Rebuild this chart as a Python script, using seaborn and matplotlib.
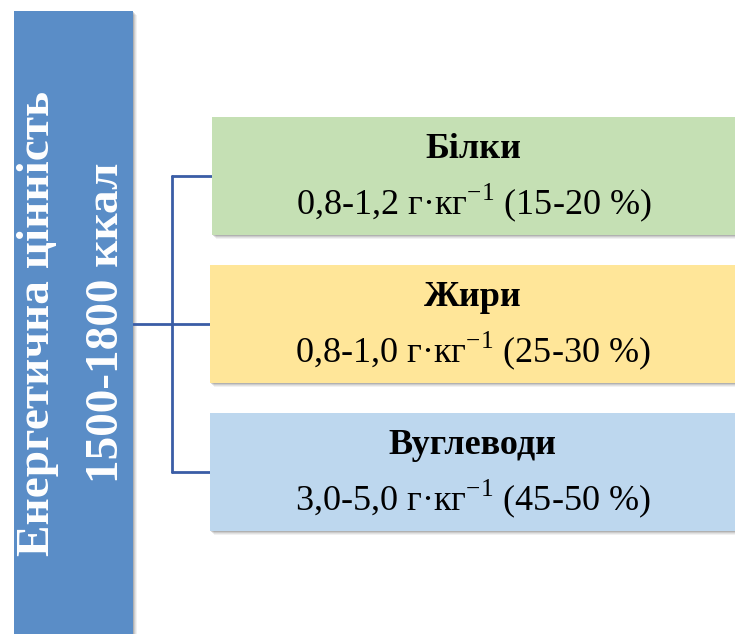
import matplotlib
matplotlib.use("Agg")
import matplotlib.pyplot as plt
from matplotlib.patches import Rectangle
import seaborn as sns

# data
main_lines = ["Енергетична цінність", "1500-1800 ккал"]
nutrients = ["Білки", "Жири", "Вуглеводи"]
amounts = ["0,8-1,2", "0,8-1,0", "3,0-5,0"]
shares = ["15-20", "25-30", "45-50"]
unit = "г·кг$^{\\mathrm{-1}}$"
box_colors = ["#C5E0B4", "#FFE699", "#BDD7EE"]

sns.set_theme(style="white")
plt.rcParams['font.family'] = ['Liberation Serif', 'DejaVu Serif']
plt.rcParams['mathtext.fontset'] = 'custom'
plt.rcParams['mathtext.rm'] = 'Liberation Serif'

fig = plt.figure(figsize=(7.35, 6.34), dpi=100)
ax = fig.add_axes([0, 0, 1, 1])
ax.set_xlim(0, 735)
ax.set_ylim(634, 0)
ax.axis("off")


def shadow_box(x, y, w, h, color, zorder=2):
  # soft drop shadow: a few grey layers
  for k, a in enumerate([0.08, 0.10, 0.15, 0.22]):
    off = 4 - k
    ax.add_patch(Rectangle((x + off, y + off), w, h, facecolor="#555555",
                           edgecolor="none", alpha=a, zorder=zorder - 1))
  ax.add_patch(Rectangle((x, y), w, h, facecolor=color, edgecolor="none", zorder=zorder))


# left blue box
shadow_box(14, 11, 119, 640, "#5A8DC7")
ax.text(38, 323, main_lines[0], rotation=90, ha="center", va="center",
        color="white", fontsize=34, fontweight="bold", zorder=5)
ax.text(107, 323, main_lines[1], rotation=90, ha="center", va="center",
        color="white", fontsize=34, fontweight="bold", zorder=5)

# boxes on the right
box_tops = [117, 265, 413]
box_lefts = [212, 210, 210]
box_h = 118
line_color = "#3A5DA6"

for i in range(len(nutrients)):
  top = box_tops[i]
  left = box_lefts[i]
  shadow_box(left, top, 735 - left + 10, box_h, box_colors[i])
  cx = (left + 735) / 2
  ax.text(cx, top + 33, nutrients[i], ha="center", va="center",
          fontsize=26, fontweight="bold", color="black", zorder=5)
  ax.text(cx, top + 86, f"{amounts[i]} {unit} ({shares[i]} %)", ha="center", va="center",
          fontsize=26, color="black", zorder=5)
  # branch line
  ax.plot([172, left], [top + box_h / 2, top + box_h / 2], color=line_color, lw=2, zorder=1)

# trunk lines
ax.plot([172, 172], [box_tops[0] + box_h / 2, box_tops[-1] + box_h / 2], color=line_color, lw=2, zorder=1)
ax.plot([133, 172], [box_tops[1] + box_h / 2, box_tops[1] + box_h / 2], color=line_color, lw=2, zorder=1)

fig.savefig("out.png", dpi=100)
